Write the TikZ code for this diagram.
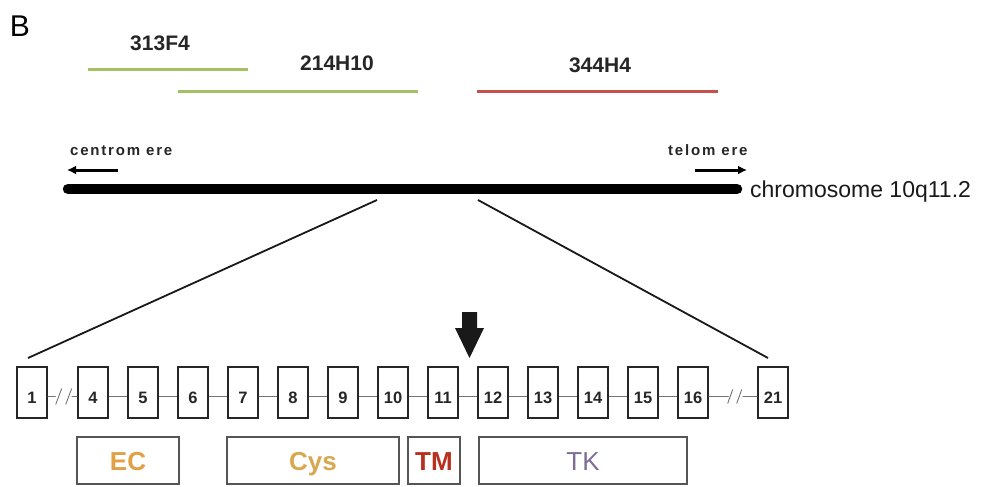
\documentclass[tikz,border=0pt]{standalone}
\usepackage{fontspec}
\setmainfont{Liberation Sans}
\usetikzlibrary{arrows.meta}
\definecolor{probegreen}{HTML}{A3C065}
\definecolor{probered}{HTML}{C8504A}
\definecolor{eccol}{HTML}{E2A046}
\definecolor{cyscol}{HTML}{D8A850}
\definecolor{tmcol}{HTML}{B8301E}
\definecolor{tkcol}{HTML}{7E6E96}
\definecolor{boxgray}{HTML}{555555}
\tikzset{
  exonbox/.style={draw=black!85, line width=1.4pt, minimum width=30pt, minimum height=51pt, inner sep=0pt},
  exnum/.style={font=\fontsize{16.5}{16.5}\selectfont\bfseries, text=black!85, text height=12pt, text depth=0pt, inner sep=0pt},
  dombox/.style={draw=boxgray, line width=1.1pt, minimum height=47pt, inner sep=0pt,
    text height=19pt, text depth=0pt, font=\fontsize{26}{26}\selectfont\bfseries},
  connline/.style={draw=black!55, line width=0.9pt},
  probeline/.style={line width=3pt},
  plabel/.style={font=\fontsize{21}{21}\selectfont\bfseries, text=black!85, inner sep=0pt},
  endlabel/.style={font=\fontsize{15}{15}\selectfont\bfseries\addfontfeature{LetterSpace=12}, text=black!85, inner sep=0pt, anchor=base west},
  endarrow/.style={line width=3pt, -{Latex[length=9pt,width=9pt]}},
  zoomline/.style={line width=1.8pt, black!90}
}
\begin{document}
\begin{tikzpicture}[x=1pt,y=-1pt]
\useasboundingbox[fill=white] (0,0) rectangle (983,487);

% panel letter
\node[font=\fontsize{30}{30}\selectfont, inner sep=0pt] (B) at (20,26) {B};

% probes
\node[plabel] (p1) at (160,43) {313F4};
\node[plabel] (p2) at (337,63) {214H10};
\node[plabel] (p3) at (600,65) {344H4};
\draw[probeline, probegreen] (88,70) -- (248,70);
\draw[probeline, probegreen] (178,92) -- (418,92);
\draw[probeline, probered] (477,92) -- (718,92);

% centromere / telomere
\node[endlabel] (cen) at (70,155) {centrom ere};
\node[endlabel] (tel) at (668,155) {telom ere};
\coordinate (ca) at (118,170);
\coordinate (cb) at (67,170);
\coordinate (ta) at (695,170);
\coordinate (tb) at (747,170);
\draw[endarrow] (ca) -- (cb);
\draw[endarrow] (ta) -- (tb);

% chromosome
\coordinate (chl) at (68,189);
\coordinate (chr) at (737,189);
\draw[line width=10.5pt, line cap=round] (chl) -- (chr);
\node[font=\fontsize{23}{23}\selectfont, inner sep=0pt, anchor=base west, text=black!90] (chrlab) at (750,197) {chromosome 10q11.2};

% exon boxes
\node[exonbox, label={[exnum, yshift=-4.5pt]center:1}] (e1) at (32,392.5) {};
\foreach \k in {4,...,16}{
  \node[exonbox, label={[exnum, yshift=-4.5pt]center:\k}] (e\k) at ({93+50*(\k-4)},392.5) {};
}
\node[exonbox, label={[exnum, yshift=-4.5pt]center:21}] (e21) at (773,392.5) {};

% zoom lines
\coordinate (zl1) at (377,200);
\coordinate (zl2) at (28,358);
\coordinate (zr1) at (478,200);
\coordinate (zr2) at (768,358);
\draw[zoomline] (zl1) -- (zl2);
\draw[zoomline] (zr1) -- (zr2);

% connectors
\foreach \a/\b in {4/5,5/6,6/7,7/8,8/9,9/10,10/11,11/12,12/13,13/14,14/15,15/16}{
  \draw[connline] ([yshift=-4pt]e\a.east) -- ([yshift=-4pt]e\b.west);
}
\draw[connline] ([yshift=-4pt]e1.east) -- ++(8,0) ++(0,8) -- ++(6,-16) ++(4,16) -- ++(6,-16) ++(0,8) -- ([yshift=-4pt]e4.west);
\draw[connline] ([yshift=-4pt]e16.east) -- ++(20,0) ++(-1,7) -- ++(5,-14) ++(4,14) -- ++(5,-14) ++(1,7) -- ([yshift=-4pt]e21.west);

% big arrow
\fill[black!90] (462,312) -- (477,312) -- (477,328) -- (484,328) -- (469.5,358) -- (455,328) -- (462,328) -- cycle;

% domains
\node[dombox, minimum width=102pt, text=eccol] (EC) at (128,460.5) {EC};
\node[dombox, minimum width=172pt, text=cyscol] (Cys) at (313,460.5) {Cys};
\node[dombox, minimum width=52pt, text=tmcol] (TM) at (434,460.5) {TM};
\node[dombox, minimum width=208pt, text=tkcol, font=\fontsize{26}{26}\selectfont] (TK) at (583,460.5) {TK};
\end{tikzpicture}
\end{document}
